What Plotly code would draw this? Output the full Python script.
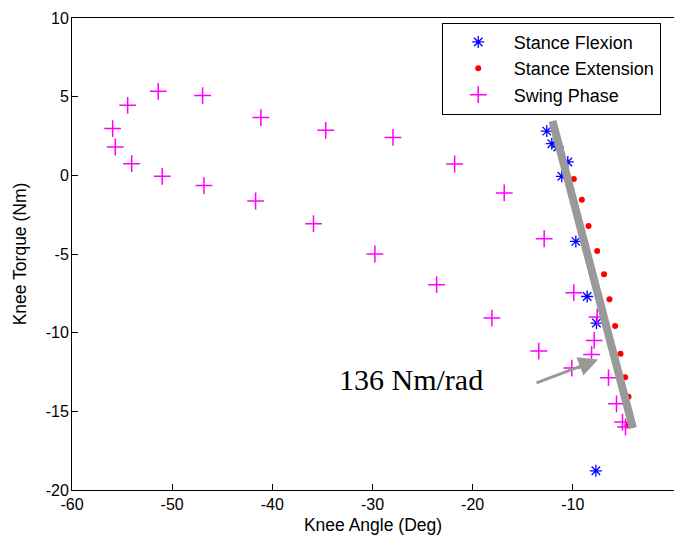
import plotly.graph_objects as go

# ---- data ----
flex_x = [-12.6, -12.1, -11.5, -10.5, -11.1, -9.7, -8.57, -7.64, -7.70]
flex_y = [2.81, 2.01, 1.80, 0.85, -0.06, -4.20, -7.70, -9.39, -18.78]

ext_x = [-9.9, -9.1, -8.43, -7.57, -6.88, -6.34, -5.78, -5.24, -4.78, -4.44, -4.54]
ext_y = [-0.23, -1.55, -3.22, -4.81, -6.29, -7.88, -9.58, -11.34, -12.84, -14.07, -15.9]

swing_x = [-4.74, -5.04, -5.64, -6.44, -8.13, -7.87, -7.57, -9.9, -12.86, -16.85,
           -21.8, -27.95, -34.67, -41.14, -46.96, -51.39, -54.44, -55.94, -55.68,
           -54.04, -50.99, -46.83, -41.67, -35.89, -29.76, -23.60, -18.08, -13.4, -10.1]
swing_y = [-16.0, -15.68, -14.52, -12.86, -11.38, -10.49, -9.0, -7.46, -4.03, -1.12,
           0.72, 2.41, 2.86, 3.67, 5.07, 5.34, 4.45, 2.97, 1.80,
           0.74, -0.06, -0.65, -1.63, -3.07, -5.0, -6.95, -9.07, -11.17, -12.25]

fit_x = [-12.03, -4.0]
fit_y = [3.46, -16.06]

arrow_tail = (-13.78, -13.23)
arrow_tip = (-7.47, -11.71)
stiffness_label = "136 Nm/rad"

x_ticks = [-60, -50, -40, -30, -20, -10, 0]
y_ticks = [-20, -15, -10, -5, 0, 5, 10]

GRAY = "#999999"
AX_FONT = dict(family="Arial, Liberation Sans, Helvetica, sans-serif", size=16, color="black")

fig = go.Figure()
fig.add_trace(go.Scatter(
    x=flex_x, y=flex_y, mode="markers", name="Stance Flexion",
    marker=dict(symbol="asterisk-open", size=10, color="#0000FF",
                line=dict(color="#0000FF", width=1.3))))
fig.add_trace(go.Scatter(
    x=ext_x, y=ext_y, mode="markers", name="Stance Extension",
    marker=dict(symbol="circle", size=6, color="#FF0000", line=dict(width=0))))
fig.add_trace(go.Scatter(
    x=swing_x, y=swing_y, mode="markers", name="Swing Phase",
    marker=dict(symbol="cross-thin-open", size=12, color="#FF00FF",
                line=dict(color="#FF00FF", width=1.5))))
fig.add_trace(go.Scatter(
    x=fit_x, y=fit_y, mode="lines", showlegend=False, hoverinfo="skip",
    line=dict(color=GRAY, width=8)))

fig.add_annotation(
    x=arrow_tip[0], y=arrow_tip[1], ax=arrow_tail[0], ay=arrow_tail[1],
    xref="x", yref="y", axref="x", ayref="y", text="",
    showarrow=True, arrowhead=2, arrowsize=1.3, arrowwidth=3, arrowcolor=GRAY)
fig.add_annotation(
    x=-33.55, y=-12.95, xref="x", yref="y", text=stiffness_label,
    showarrow=False, xanchor="left", yanchor="middle",
    font=dict(family="Times New Roman, Liberation Serif, serif", size=30, color="black"))

fig.update_layout(
    width=674, height=542,
    margin=dict(l=72, r=0, t=18, b=52),
    plot_bgcolor="white", paper_bgcolor="white",
    font=AX_FONT,
    legend=dict(x=0.978, y=0.99, xanchor="right", yanchor="top",
                bordercolor="black", borderwidth=1, bgcolor="white",
                font=dict(family="Arial, Liberation Sans, sans-serif", size=18),
                itemwidth=61, tracegroupgap=0),
)
fig.update_xaxes(
    range=[-60, 0.1], tickvals=x_ticks, ticktext=[str(v) for v in x_ticks],
    showgrid=False, zeroline=False, showline=True, linecolor="black", linewidth=1,
    mirror=True, ticks="inside", ticklen=6, tickcolor="black",
    title=dict(text="Knee Angle (Deg)", font=dict(size=17.5), standoff=6),
    automargin=False)
fig.update_yaxes(
    range=[-20, 10], tickvals=y_ticks, ticktext=[str(v) for v in y_ticks],
    showgrid=False, zeroline=False, showline=True, linecolor="black", linewidth=1,
    mirror=False, ticks="inside", ticklen=6, tickcolor="black", ticklabelstandoff=-1,
    title=dict(text="Knee Torque (Nm)", font=dict(size=17.5), standoff=14),
    automargin=False)

fig.write_html("out.html", config={"displayModeBar": False},
               post_script="document.body.style.margin='0';")
